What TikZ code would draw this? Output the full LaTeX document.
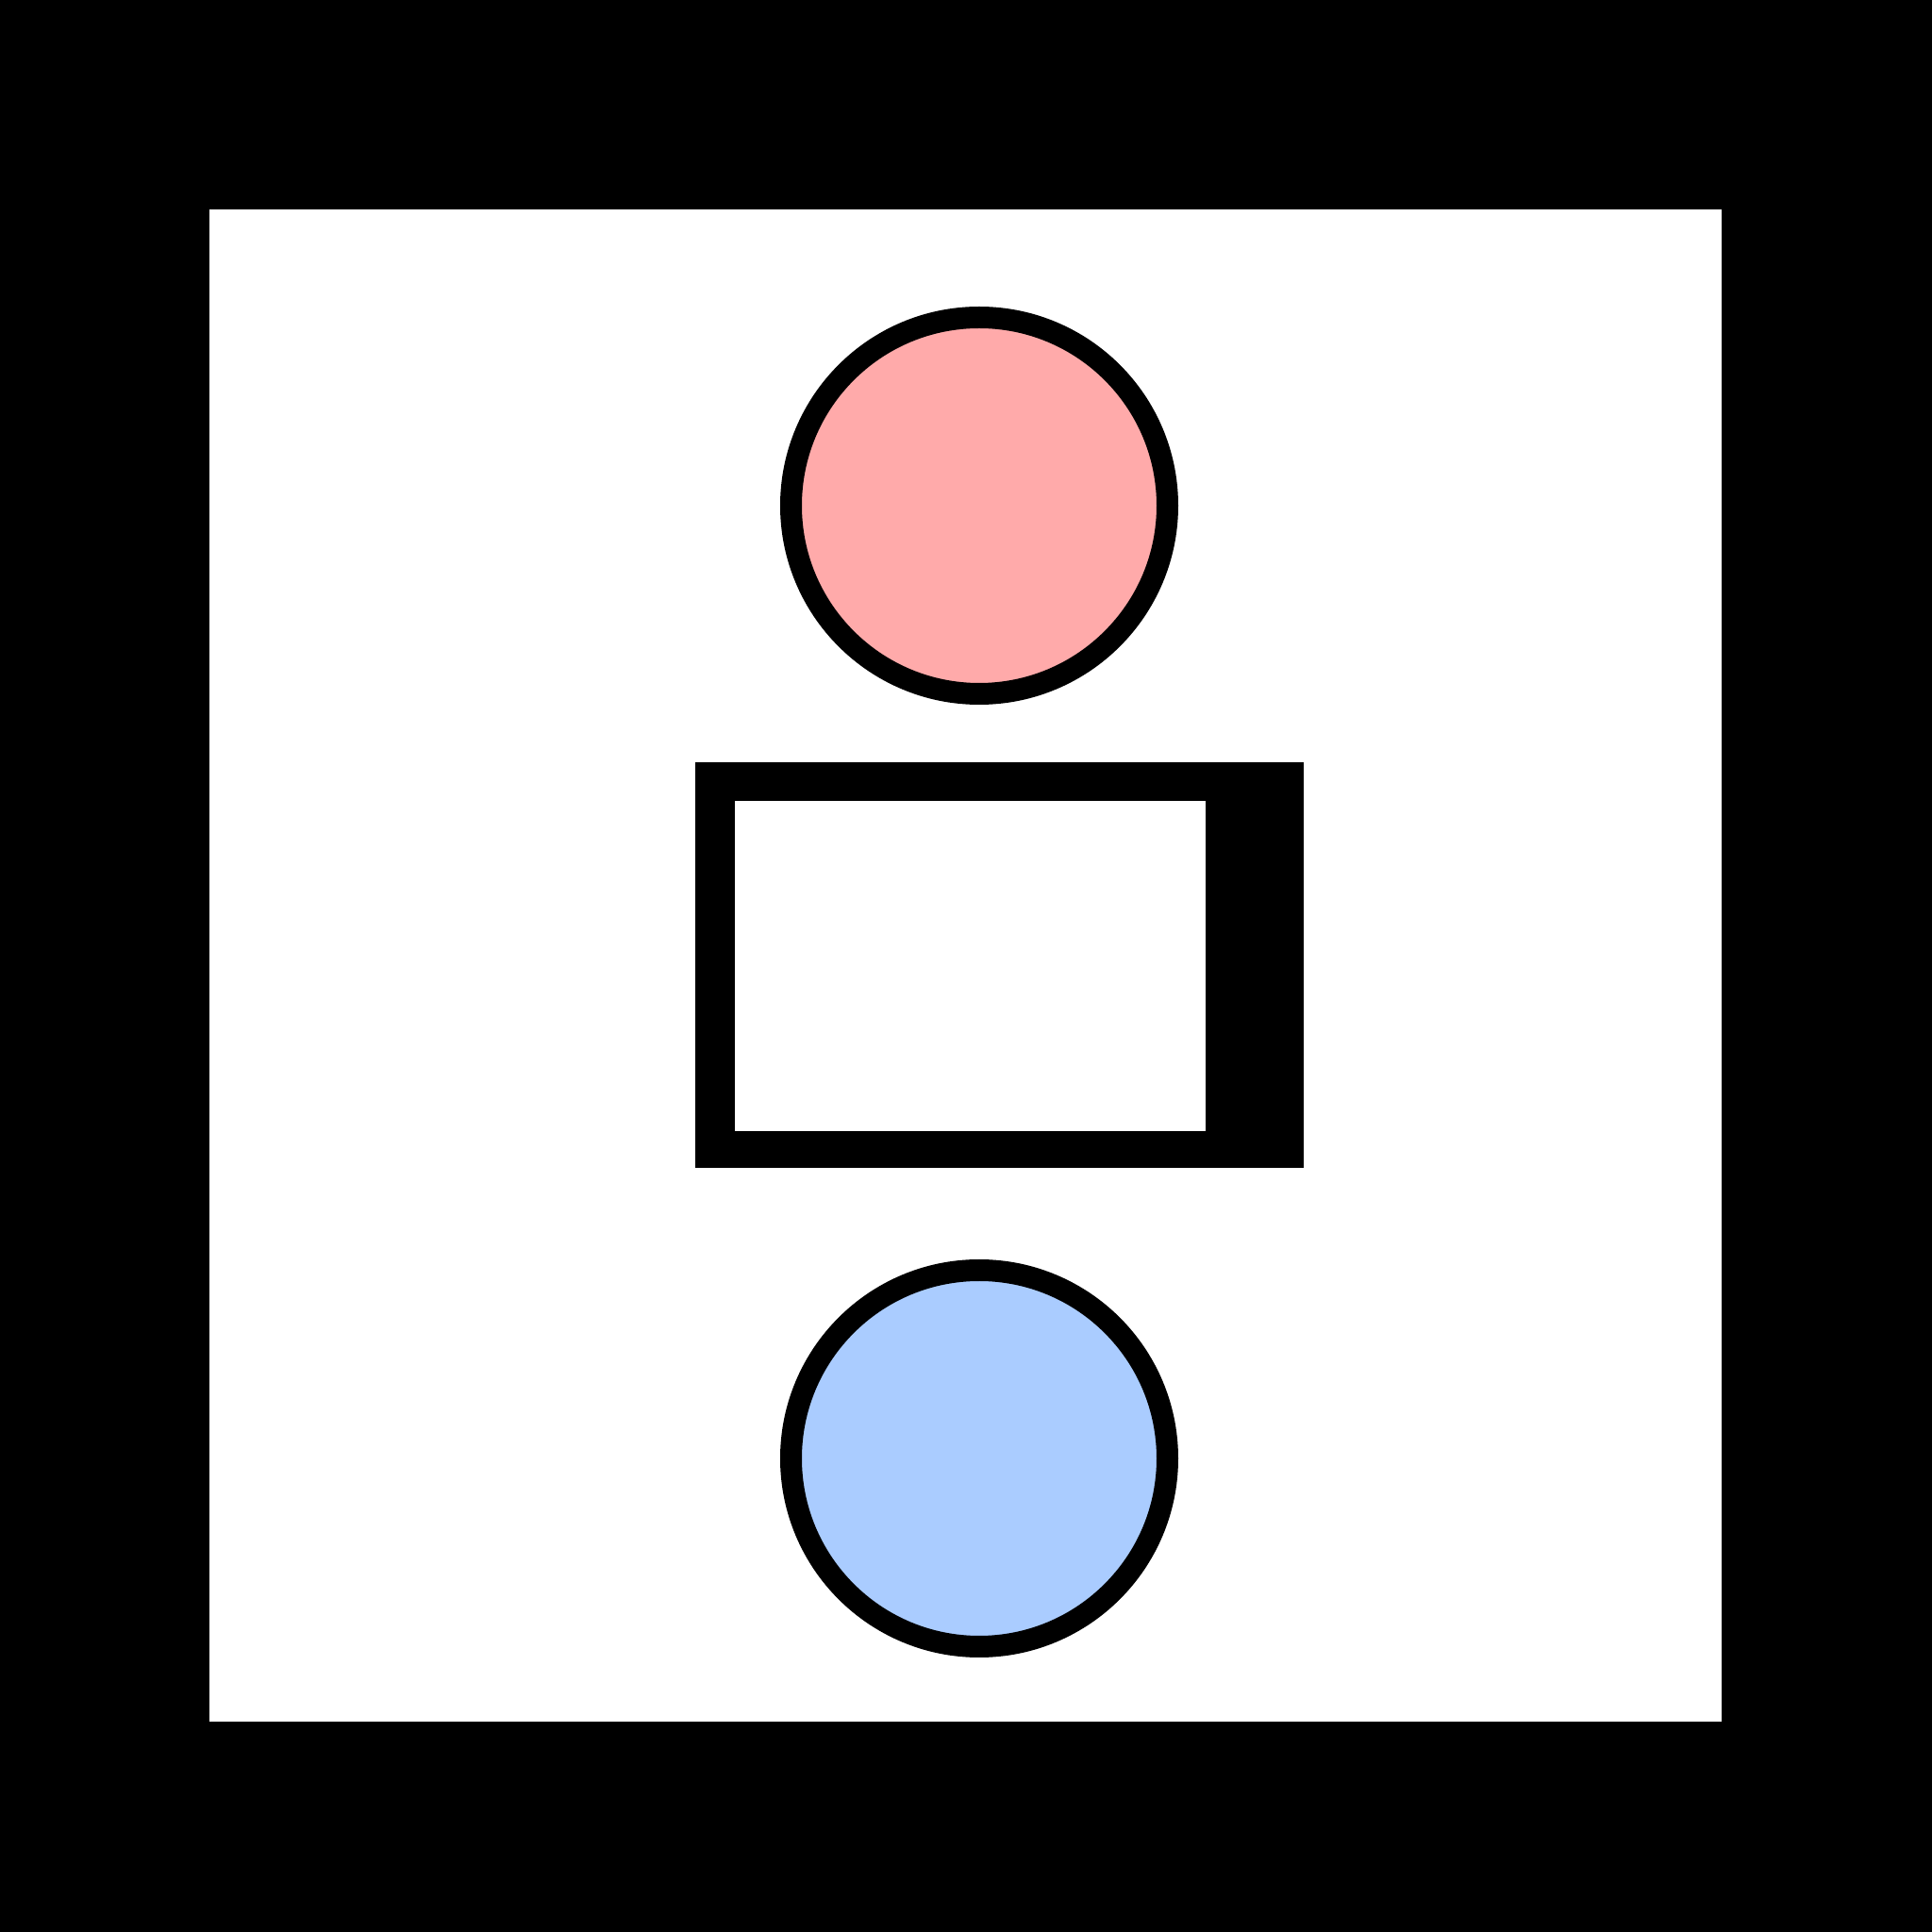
\documentclass[tikz,border=0pt]{standalone}
\usepackage{tikz}
\usetikzlibrary{positioning}

\definecolor{pinkfill}{HTML}{FFAAAA}
\definecolor{bluefill}{HTML}{AACCFF}

\begin{document}
\begin{tikzpicture}[line cap=round, line join=round,
		ball/.style={circle, draw=black, line width=0.23cm, inner sep=0, minimum size=3.99cm},
		block/.style={rectangle, inner sep=0, draw=none}]
		% background
		\fill [black] (0,0) rectangle (20.48,20.48);
		\useasboundingbox (0,0) rectangle (20.48,20.48);
		% inner field
		\fill [white] (2.22,2.23) rectangle (18.25,18.26);
		% circles
		\node [ball, fill=pinkfill] (top) at (10.38,15.12) {};
		\node [ball, fill=bluefill] (bottom) at (10.38,5.02) {};
		% middle block
		\node [block, fill=black, minimum width=6.45cm, minimum height=4.30cm] (frame) at (10.595,10.25) {};
		\node [block, fill=white, minimum width=4.99cm, minimum height=3.50cm] (slot) at (10.285,10.24) {};
	\end{tikzpicture}
\end{document}
